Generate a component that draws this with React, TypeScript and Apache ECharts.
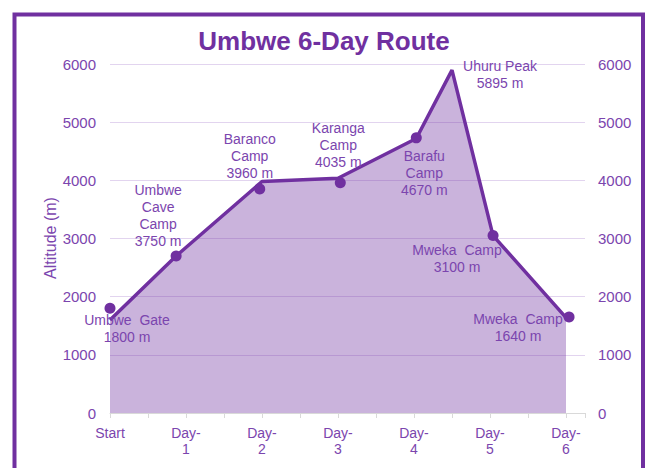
import React, { useEffect, useRef } from "react";
import * as echarts from "echarts";

const xLabels = ["Start", "Day-\n1", "Day-\n2", "Day-\n3", "Day-\n4", "Day-\n5", "Day-\n6"];
const yTicks = [0, 1000, 2000, 3000, 4000, 5000, 6000];
const yAxisTitle = "Altitude (m)";

// route profile line (area)
const routeX = [0, 0.87, 2, 3, 4.03, 4.5, 5.04, 6];
const routeAlt = [1600, 2700, 3980, 4035, 4720, 5895, 3050, 1640];

// camp markers
const campX = [0, 0.87, 1.97, 3.03, 4.03, 5.04, 6.04];
const campAlt = [1800, 2700, 3850, 3960, 4730, 3050, 1650];
const campNames = ["Umbwe  Gate", "Umbwe\nCave\nCamp", "Baranco\nCamp", "Karanga\nCamp", "Barafu\nCamp", "Mweka  Camp", "Mweka  Camp"];
const campLabelAlt = [1800, 3750, 3960, 4035, 4670, 3100, 1640];

const peakName = "Uhuru Peak";
const peakX = 4.5;
const peakAlt = 5895;

const labelOffsets: [number, number][] = [
  [17, 20],
  [-18, -40],
  [-10, -33],
  [-2, -38],
  [8, 35],
  [-36, 23],
  [-51, 10],
];

const PURPLE = "#7030A0";
const TEXT = "#7B45AE";
const FONT = "Liberation Sans, Arial, sans-serif";

export default function App() {
  const ref = useRef<HTMLDivElement>(null);
  useEffect(() => {
    if (!ref.current) return;
    const chart = echarts.init(ref.current, undefined, { renderer: "svg" });
    const labelStyle = {
      color: TEXT,
      fontSize: 14,
      fontFamily: FONT,
      lineHeight: 17,
      align: "center",
      verticalAlign: "middle",
    };
    chart.setOption({
      animation: false,
      backgroundColor: "#ffffff",
      title: {
        text: "Umbwe 6-Day Route",
        left: "center",
        top: 23,
        textStyle: { color: PURPLE, fontSize: 26, fontWeight: "bold", fontFamily: FONT },
      },
      graphic: [
        {
          type: "rect",
          shape: { x: 14.5, y: 14.5, width: 628.5, height: 480 },
          style: { fill: "none", stroke: PURPLE, lineWidth: 4 },
          silent: true,
        },
        {
          type: "text",
          x: 50,
          y: 238,
          rotation: Math.PI / 2,
          style: {
            text: yAxisTitle,
            fill: TEXT,
            fontSize: 16,
            fontFamily: FONT,
            align: "center",
            verticalAlign: "middle",
          },
          silent: true,
        },
      ],
      grid: { left: 110, right: 63, top: 64, bottom: 55 },
      xAxis: {
        type: "value",
        min: 0,
        max: 6.25,
        interval: 1,
        splitLine: { show: false },
        axisLine: { show: true, lineStyle: { color: "#D9D9D9", width: 1 } },
        axisTick: { show: true, length: 5, lineStyle: { color: "#D9D9D9" } },
        minorTick: { show: true, splitNumber: 2, length: 5, lineStyle: { color: "#D9D9D9" } },
        axisLabel: {
          color: TEXT,
          fontSize: 14,
          fontFamily: FONT,
          lineHeight: 16,
          margin: 12,
          showMaxLabel: false,
          formatter: (v: number) => (Number.isInteger(v) && v >= 0 && v < xLabels.length ? xLabels[v] : ""),
        },
      },
      yAxis: [
        {
          type: "value",
          min: 0,
          max: 6000,
          interval: 1000,
          axisLine: { show: false },
          axisTick: { show: false },
          axisLabel: {
            color: TEXT,
            fontSize: 15,
            fontFamily: FONT,
            margin: 14,
            formatter: (v: number) => (yTicks.includes(v) ? String(v) : ""),
          },
          splitLine: { show: true, lineStyle: { color: "#E2D4EF", width: 1 } },
        },
        {
          type: "value",
          min: 0,
          max: 6000,
          interval: 1000,
          position: "right",
          axisLine: { show: false },
          axisTick: { show: false },
          axisLabel: {
            color: TEXT,
            fontSize: 15,
            fontFamily: FONT,
            margin: 13,
            formatter: (v: number) => (yTicks.includes(v) ? String(v) : ""),
          },
          splitLine: { show: false },
        },
      ],
      series: [
        {
          type: "line",
          data: routeX.map((x, i) => [x, routeAlt[i]]),
          showSymbol: false,
          symbol: "none",
          lineStyle: { color: PURPLE, width: 3.5 },
          areaStyle: { color: "rgba(112,48,160,0.37)", opacity: 1, origin: "start" },
          z: 2,
        },
        {
          type: "scatter",
          symbol: "circle",
          symbolSize: 11,
          itemStyle: { color: PURPLE, opacity: 1 },
          data: campX.map((x, i) => ({
            value: [x, campAlt[i]],
            label: {
              show: true,
              position: "inside",
              offset: labelOffsets[i],
              formatter: `${campNames[i]}\n${campLabelAlt[i]} m`,
              ...labelStyle,
            },
          })),
          z: 3,
        },
        {
          type: "scatter",
          symbol: "circle",
          symbolSize: 2,
          itemStyle: { color: "rgba(0,0,0,0)", opacity: 1 },
          data: [
            {
              value: [peakX, peakAlt],
              label: {
                show: true,
                position: "inside",
                offset: [48, 4],
                formatter: `${peakName}\n${peakAlt} m`,
                ...labelStyle,
              },
            },
          ],
          z: 4,
        },
      ],
    });
    return () => chart.dispose();
  }, []);
  return <div ref={ref} style={{ position: "fixed", left: 0, top: 0, width: 648, height: 468 }} />;
}
